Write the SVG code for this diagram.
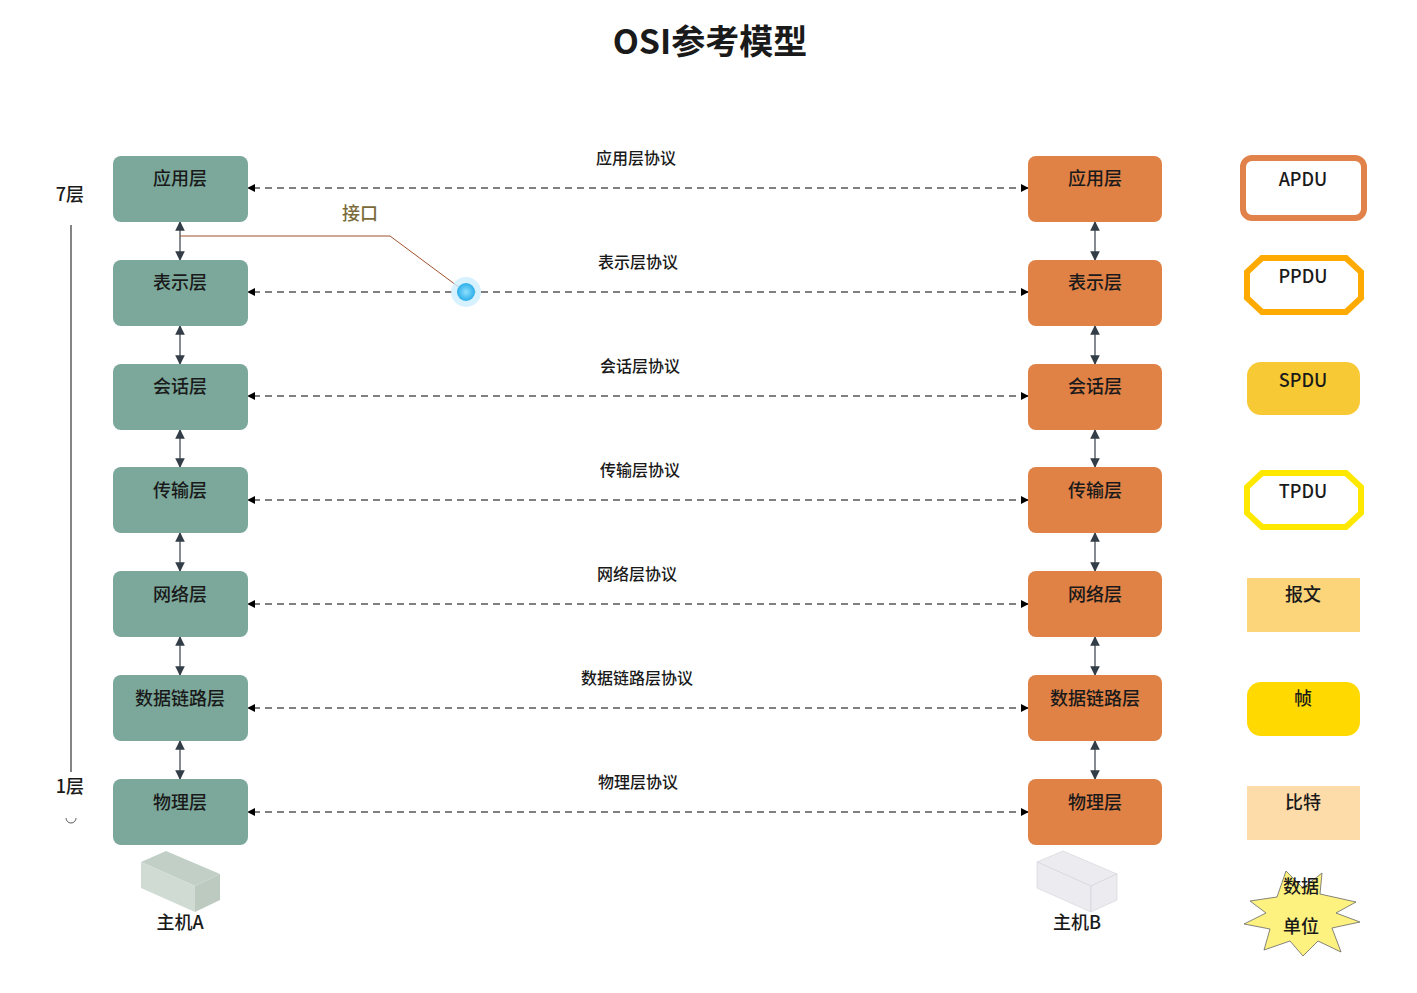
<svg xmlns="http://www.w3.org/2000/svg" width="1417" height="993" viewBox="0 0 1417 993">
<style>
text{font-family:"Noto Sans CJK SC","Noto Sans",sans-serif;fill:#1a1a1a;font-weight:500}
.l rect{fill:#7ba89b}
.r rect{fill:#e08146}
.lbl{font-size:18px;text-anchor:middle}
.pl{font-size:16px;text-anchor:middle}
.dash{stroke:#000;stroke-width:1;stroke-dasharray:7 5;fill:none}
.v{stroke:#333d47;stroke-width:1.2;fill:none}
</style>
<defs>
<marker id="a" viewBox="0 0 10 10" refX="9" refY="5" markerWidth="8" markerHeight="8" orient="auto-start-reverse"><path d="M0,0 L10,5 L0,10 z" fill="#000"/></marker>
<marker id="b" viewBox="0 0 10 10" refX="9" refY="5" markerWidth="8" markerHeight="8" orient="auto-start-reverse"><path d="M0,0 L10,5 L0,10 z" fill="#333d47"/></marker>
<radialGradient id="g"><stop offset="0" stop-color="#8fe0ff"/><stop offset="1" stop-color="#2aaee8"/></radialGradient>
</defs>
<text x="710" y="54" font-size="34" text-anchor="middle" style="font-weight:bold">OSI参考模型</text>

<g id="scale">
<text x="70" y="201" font-size="18" text-anchor="middle">7层</text>
<line x1="71" y1="225" x2="71" y2="772" stroke="#333" stroke-width="1.2"/>
<text x="70" y="793" font-size="18" text-anchor="middle">1层</text>
<path d="M66,818 a5,5 0 0 0 10,0" fill="none" stroke="#333" stroke-width="0.8"/>
</g>

<g id="connectors">
<line class="dash" x1="1028" y1="188" x2="248" y2="188" marker-start="url(#a)" marker-end="url(#a)"/>
<line class="dash" x1="1028" y1="292" x2="248" y2="292" marker-start="url(#a)" marker-end="url(#a)"/>
<line class="dash" x1="1028" y1="396" x2="248" y2="396" marker-start="url(#a)" marker-end="url(#a)"/>
<line class="dash" x1="1028" y1="500" x2="248" y2="500" marker-start="url(#a)" marker-end="url(#a)"/>
<line class="dash" x1="1028" y1="604" x2="248" y2="604" marker-start="url(#a)" marker-end="url(#a)"/>
<line class="dash" x1="1028" y1="708" x2="248" y2="708" marker-start="url(#a)" marker-end="url(#a)"/>
<line class="dash" x1="1028" y1="812" x2="248" y2="812" marker-start="url(#a)" marker-end="url(#a)"/>
<g class="v">
<line x1="180" y1="222" x2="180" y2="260" marker-start="url(#b)" marker-end="url(#b)"/>
<line x1="180" y1="326" x2="180" y2="364" marker-start="url(#b)" marker-end="url(#b)"/>
<line x1="180" y1="430" x2="180" y2="467" marker-start="url(#b)" marker-end="url(#b)"/>
<line x1="180" y1="533" x2="180" y2="571" marker-start="url(#b)" marker-end="url(#b)"/>
<line x1="180" y1="637" x2="180" y2="675" marker-start="url(#b)" marker-end="url(#b)"/>
<line x1="180" y1="741" x2="180" y2="779" marker-start="url(#b)" marker-end="url(#b)"/>
<line x1="1095" y1="222" x2="1095" y2="260" marker-start="url(#b)" marker-end="url(#b)"/>
<line x1="1095" y1="326" x2="1095" y2="364" marker-start="url(#b)" marker-end="url(#b)"/>
<line x1="1095" y1="430" x2="1095" y2="467" marker-start="url(#b)" marker-end="url(#b)"/>
<line x1="1095" y1="533" x2="1095" y2="571" marker-start="url(#b)" marker-end="url(#b)"/>
<line x1="1095" y1="637" x2="1095" y2="675" marker-start="url(#b)" marker-end="url(#b)"/>
<line x1="1095" y1="741" x2="1095" y2="779" marker-start="url(#b)" marker-end="url(#b)"/>
</g>
<text class="pl" x="636" y="164">应用层协议</text>
<text class="pl" x="638" y="268">表示层协议</text>
<text class="pl" x="640" y="372">会话层协议</text>
<text class="pl" x="640" y="476">传输层协议</text>
<text class="pl" x="637" y="580">网络层协议</text>
<text class="pl" x="637" y="684">数据链路层协议</text>
<text class="pl" x="638" y="788">物理层协议</text>
</g>

<g id="interface">
<polyline points="180,236 390,236 460,288" fill="none" stroke="#a0522d" stroke-width="1"/>
<text x="360" y="220" font-size="18" text-anchor="middle" style="fill:#7a6a3a">接口</text>
<circle cx="466" cy="292" r="15" fill="#cdeeff" opacity="0.8"/>
<circle cx="466" cy="292" r="9" fill="url(#g)"/>
</g>

<g class="l">
<g id="L7"><rect x="113" y="156" width="135" height="66" rx="8"/><text class="lbl" x="180" y="185">应用层</text></g>
<g id="L6"><rect x="113" y="260" width="135" height="66" rx="8"/><text class="lbl" x="180" y="289">表示层</text></g>
<g id="L5"><rect x="113" y="364" width="135" height="66" rx="8"/><text class="lbl" x="180" y="393">会话层</text></g>
<g id="L4"><rect x="113" y="467" width="135" height="66" rx="8"/><text class="lbl" x="180" y="497">传输层</text></g>
<g id="L3"><rect x="113" y="571" width="135" height="66" rx="8"/><text class="lbl" x="180" y="601">网络层</text></g>
<g id="L2"><rect x="113" y="675" width="135" height="66" rx="8"/><text class="lbl" x="180" y="705">数据链路层</text></g>
<g id="L1"><rect x="113" y="779" width="135" height="66" rx="8"/><text class="lbl" x="180" y="809">物理层</text></g>
</g>
<g class="r">
<g id="R7"><rect x="1028" y="156" width="134" height="66" rx="8"/><text class="lbl" x="1095" y="185">应用层</text></g>
<g id="R6"><rect x="1028" y="260" width="134" height="66" rx="8"/><text class="lbl" x="1095" y="289">表示层</text></g>
<g id="R5"><rect x="1028" y="364" width="134" height="66" rx="8"/><text class="lbl" x="1095" y="393">会话层</text></g>
<g id="R4"><rect x="1028" y="467" width="134" height="66" rx="8"/><text class="lbl" x="1095" y="497">传输层</text></g>
<g id="R3"><rect x="1028" y="571" width="134" height="66" rx="8"/><text class="lbl" x="1095" y="601">网络层</text></g>
<g id="R2"><rect x="1028" y="675" width="134" height="66" rx="8"/><text class="lbl" x="1095" y="705">数据链路层</text></g>
<g id="R1"><rect x="1028" y="779" width="134" height="66" rx="8"/><text class="lbl" x="1095" y="809">物理层</text></g>
</g>

<g id="hostA">
<polygon points="141,862 166,851 220,874 195,886" fill="#c2cfc6"/>
<polygon points="141,862 195,886 195,912 141,888" fill="#d0dbd3"/>
<polygon points="195,886 220,874 220,900 195,912" fill="#bccac0"/>
<text class="lbl" x="180" y="929">主机A</text>
</g>
<g id="hostB">
<polygon points="1037,862 1063,851 1117,874 1091,886" fill="#ececf0" stroke="#d0d0d8" stroke-width="0.6"/>
<polygon points="1037,862 1091,886 1091,912 1037,888" fill="#ececf0" stroke="#d0d0d8" stroke-width="0.6"/>
<polygon points="1091,886 1117,874 1117,900 1091,912" fill="#ececf0" stroke="#d0d0d8" stroke-width="0.6"/>
<text class="lbl" x="1077" y="929">主机B</text>
</g>

<g id="APDU"><rect x="1243" y="158" width="121" height="60" rx="9" fill="#fff" stroke="#e0824a" stroke-width="6"/><text class="lbl" x="1303" y="186">APDU</text></g>
<g id="PPDU"><polygon points="1262,258 1346,258 1361,272 1361,298 1346,312 1262,312 1247,298 1247,272" fill="#fff" stroke="#ffaa00" stroke-width="6"/><text class="lbl" x="1303" y="283">PPDU</text></g>
<g id="SPDU"><rect x="1247" y="362" width="113" height="53" rx="14" fill="#f7c934"/><text class="lbl" x="1303" y="387">SPDU</text></g>
<g id="TPDU"><polygon points="1262,473 1346,473 1361,487 1361,513 1346,527 1262,527 1247,513 1247,487" fill="#fff" stroke="#ffe800" stroke-width="6"/><text class="lbl" x="1303" y="498">TPDU</text></g>
<g id="baowen"><rect x="1247" y="578" width="113" height="54" fill="#fcd57a"/><text class="lbl" x="1303" y="601">报文</text></g>
<g id="zhen"><rect x="1247" y="682" width="113" height="54" rx="14" fill="#ffd900"/><text class="lbl" x="1303" y="705">帧</text></g>
<g id="bite"><rect x="1247" y="786" width="113" height="54" fill="#fddcaa"/><text class="lbl" x="1303" y="809">比特</text></g>
<g id="unit">
<polygon points="1286,871 1303,888 1322,873 1320,894 1356,902 1336,913 1360,922 1332,928 1341,952 1318,941 1303,956 1290,941 1264,950 1270,929 1244,924 1266,913 1250,901 1277,897 1286,871" fill="#fdf17f" stroke="#666" stroke-width="0.8"/>
<text class="lbl" x="1301" y="893">数据</text>
<text class="lbl" x="1301" y="933">单位</text>
</g>
</svg>
